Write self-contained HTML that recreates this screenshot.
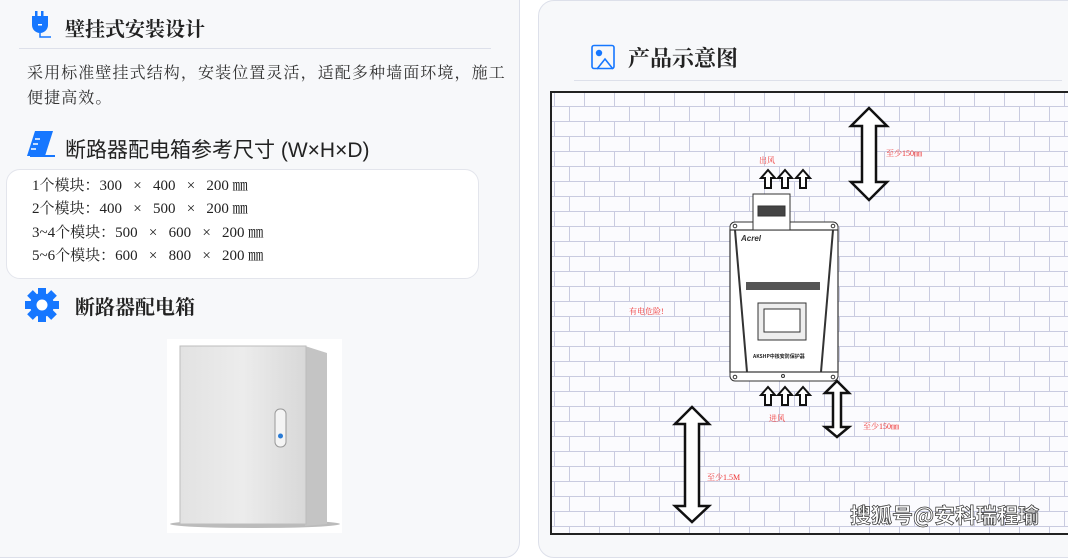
<!DOCTYPE html>
<html><head><meta charset="utf-8">
<style>
body{margin:0;width:1068px;height:538px;background:#fff;position:relative;overflow:hidden;font-family:"Liberation Serif","Noto Serif CJK SC",serif;color:#333}
.card{position:absolute;background:#f7f8fa;border:1px solid #dde0ea;border-radius:16px}
.t{position:absolute;white-space:nowrap}
</style></head><body>
<div class="card" style="left:-20px;top:-20px;width:538px;height:576px"></div>
<div class="card" style="left:538px;top:0;width:560px;height:556px"></div>

<svg class="t" style="left:31px;top:11px" width="22" height="28" viewBox="0 0 22 28">
<rect x="4" y="0" width="2.5" height="6" fill="#1677ff"/><rect x="10" y="0" width="2.5" height="6" fill="#1677ff"/>
<path d="M1 5h16v9a8 8 0 0 1-16 0z" fill="#1677ff"/><rect x="7" y="13" width="4" height="1.5" fill="#fff"/>
<path d="M9 22v4h11" stroke="#1677ff" stroke-width="1.5" fill="none"/></svg>
<div class="t" style="left:65px;top:13px;font-size:20px;font-weight:bold;color:#222">壁挂式安装设计</div>
<div style="position:absolute;left:19px;top:48px;width:472px;height:1px;background:#dde0ea"></div>
<div class="t" style="left:27px;top:61px;font-size:16px;letter-spacing:1.1px;line-height:25px;color:#333">采用标准壁挂式结构，安装位置灵活，适配多种墙面环境，施工<br>便捷高效。</div>

<svg class="t" style="left:27px;top:131px" width="28" height="26" viewBox="0 0 28 26"><path d="M8 0h18l-8 25H0z" fill="#1677ff"/><path d="M3 25h25" stroke="#1677ff" stroke-width="2"/><path d="M8 8h5M6 13h5M4 18h5" stroke="#fff" stroke-width="1.5"/></svg>
<div class="t" style="left:65px;top:134px;font-size:21px;font-family:'Liberation Sans','Noto Sans CJK SC',sans-serif;color:#222">断路器配电箱参考尺寸 (W×H×D)</div>
<div style="position:absolute;left:6px;top:169px;width:471px;height:108px;background:#fff;border:1px solid #e3e5ec;border-radius:14px"></div>
<div class="t" style="left:32px;top:175px;font-size:15px;line-height:23.3px;color:#222">1个模块：300 &nbsp;&nbsp;× &nbsp;&nbsp;400 &nbsp;&nbsp;× &nbsp;&nbsp;200 ㎜<br>2个模块：400 &nbsp;&nbsp;× &nbsp;&nbsp;500 &nbsp;&nbsp;× &nbsp;&nbsp;200 ㎜<br>3~4个模块：500 &nbsp;&nbsp;× &nbsp;&nbsp;600 &nbsp;&nbsp;× &nbsp;&nbsp;200 ㎜<br>5~6个模块：600 &nbsp;&nbsp;× &nbsp;&nbsp;800 &nbsp;&nbsp;× &nbsp;&nbsp;200 ㎜</div>

<svg class="t" style="left:25px;top:288px" width="34" height="34" viewBox="0 0 34 34"><g fill="#1677ff" transform="translate(17 17)">
<circle r="12"/><rect x="-4" y="-17" width="8" height="8"/>
<rect x="-4" y="9" width="8" height="8"/><rect x="-17" y="-4" width="8" height="8"/><rect x="9" y="-4" width="8" height="8"/>
<rect x="-4" y="-17" width="8" height="8" transform="rotate(45)"/><rect x="-4" y="-17" width="8" height="8" transform="rotate(-45)"/><rect x="-4" y="-17" width="8" height="8" transform="rotate(135)"/><rect x="-4" y="-17" width="8" height="8" transform="rotate(-135)"/></g>
<circle cx="17" cy="17" r="5.5" fill="#fff"/></svg>
<div class="t" style="left:75px;top:291px;font-size:20px;font-weight:bold;color:#222">断路器配电箱</div>

<svg class="t" style="left:167px;top:339px" width="175" height="194" viewBox="0 0 175 194">
<defs><linearGradient id="d" x1="0" x2="1"><stop offset="0" stop-color="#e2e2e2"/><stop offset=".5" stop-color="#ececec"/><stop offset="1" stop-color="#d8d8d8"/></linearGradient></defs>
<rect width="175" height="194" fill="#fff"/>
<ellipse cx="88" cy="185" rx="85" ry="4" fill="#bbb"/>
<path d="M138 7l22 7v171l-22 2z" fill="#c4c4c4"/>
<rect x="13" y="7" width="126" height="178" fill="url(#d)" stroke="#bdbdbd"/>
<rect x="108" y="70" width="11" height="38" rx="5" fill="#f4f4f4" stroke="#999"/>
<circle cx="113.5" cy="97" r="2.5" fill="#2a7bd5"/></svg>

<svg class="t" style="left:590px;top:44px" width="28" height="27" viewBox="0 0 28 27"><rect x="2" y="1.5" width="22" height="23" rx="2" fill="none" stroke="#1677ff" stroke-width="1.6"/><circle cx="9" cy="9" r="3.2" fill="#1677ff"/><path d="M7 25l8-10 8 10" fill="none" stroke="#1677ff" stroke-width="1.6"/></svg>
<div class="t" style="left:628px;top:42px;font-size:22px;font-weight:bold;color:#222">产品示意图</div>
<div style="position:absolute;left:574px;top:80px;width:488px;height:1px;background:#dde0ea"></div>

<svg class="t" style="left:550px;top:91px" width="518" height="447" viewBox="0 0 518 447">
<defs><pattern id="b" width="30" height="30" patternUnits="userSpaceOnUse" x="4" y="0">
<rect width="30" height="30" fill="#fbfbfe"/>
<path d="M0 .5H30M0 15.5H30M.5 0V15M15.5 15V30" stroke="#c9cbe0" stroke-width="1"/></pattern></defs>
<rect x="1" y="1" width="520" height="442" fill="url(#b)" stroke="#222" stroke-width="2"/>
<g fill="#fff" stroke="#111" stroke-width="2.5">
<path d="M319 17l18 18h-11v56h11l-18 18-18-18h11V35h-11z"/>
<path d="M287 290l12 12h-8v34h8l-12 10-12-10h8v-34h-8z"/>
<path d="M142 316l17 17h-10v82h10l-17 16-17-16h10v-82h-10z"/>
</g>
<g fill="#fff" stroke="#111" stroke-width="2">
<path id="ua" d="M218 79l7 8h-4v10h-6V87h-4z"/>
<use href="#ua" x="17"/><use href="#ua" x="35"/>
<use href="#ua" y="217"/><use href="#ua" x="17" y="217"/><use href="#ua" x="35" y="217"/>
</g>
<g stroke="#333" fill="#fff">
<path d="M180 136a5 5 0 0 1 5-5h98a5 5 0 0 1 5 5v3H180z" stroke-width="1"/>
<path d="M180 281h108v4a5 5 0 0 1-5 5H185a5 5 0 0 1-5-5z" stroke-width="1"/>
<rect x="180" y="139" width="108" height="142" stroke-width="1.2"/>
<path d="M185 139l12 142M283 139l-12 142" stroke-width="2"/>
<rect x="203" y="103" width="37" height="36"/>
<rect x="208" y="115" width="27" height="10" fill="#444"/>
<rect x="208" y="212" width="48" height="37" fill="#eee"/>
<rect x="214" y="218" width="36" height="23"/>
</g>
<g fill="#fff" stroke="#333"><circle cx="185" cy="135" r="1.8"/><circle cx="283" cy="135" r="1.8"/><circle cx="185" cy="286" r="1.8"/><circle cx="283" cy="286" r="1.8"/><circle cx="233" cy="285" r="1.5"/></g>
<rect x="196" y="191" width="74" height="8" fill="#555"/>
<text x="191" y="150" font-size="8" font-style="italic" font-weight="bold" fill="#333" font-family="Liberation Sans,sans-serif">Acrel</text>
<text x="203" y="267" font-size="5" font-weight="bold" fill="#222" font-family="Noto Sans CJK SC,sans-serif">AKSHP中核安防保护器</text>
<g fill="#e33" font-size="8" font-family="Liberation Serif,Noto Serif CJK SC,serif">
<text x="209" y="72">出风</text>
<text x="219" y="330">进风</text>
<text x="336" y="65">至少150㎜</text>
<text x="313" y="338">至少150㎜</text>
<text x="79" y="223">有电危险!</text>
<text x="157" y="389">至少1.5M</text>
</g>
<text x="300" y="432" font-size="21" font-weight="bold" fill="#fff" stroke="#333" stroke-width="0.7" font-family="Noto Sans CJK SC,sans-serif">搜狐号@安科瑞程瑜</text>
</svg>
</body></html>
